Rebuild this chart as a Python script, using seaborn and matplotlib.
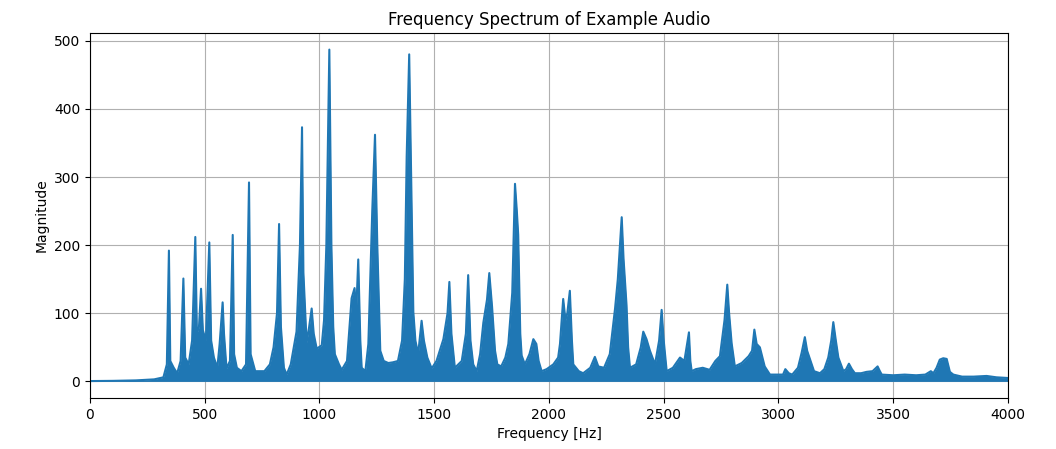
import matplotlib
matplotlib.use("Agg")
import matplotlib.pyplot as plt
import seaborn as sns
import pandas as pd

# =================== Data ===================

# upper envelope of the magnitude spectrum, frequency in Hz
freq_hz = [
    0, 100, 200, 280, 320, 335, 344, 350, 365, 380, 395, 407, 415, 430, 445,
    459, 466, 475, 484, 492, 505, 520, 528, 540, 555, 565, 578, 584, 595, 610,
    622, 628, 640, 660, 680, 693, 700, 720, 760, 784, 800, 815, 824, 832, 845,
    857, 875, 900, 915, 924, 930, 944, 955, 966, 975, 988, 1010, 1020, 1030, 1043,
    1052, 1060, 1067, 1085, 1097, 1120, 1140, 1153, 1160, 1169, 1178, 1184, 1200,
    1213, 1230, 1242, 1252, 1265, 1280, 1300, 1320, 1342, 1360, 1372, 1380,
    1391, 1398, 1409, 1418, 1430, 1445, 1455, 1470, 1489, 1510, 1540, 1558,
    1566, 1575, 1590, 1620, 1638, 1648, 1658, 1670, 1685, 1700, 1714, 1730,
    1740, 1752, 1765, 1775, 1792, 1810, 1823, 1840, 1852, 1860, 1866, 1875,
    1881, 1895, 1915, 1932, 1945, 1955, 1968, 1990, 2019, 2040, 2048, 2062,
    2072, 2080, 2091, 2100, 2106, 2130, 2149, 2180, 2200, 2215, 2240, 2265,
    2288, 2300, 2317, 2325, 2338, 2345, 2353, 2380, 2400, 2411, 2425, 2440,
    2462, 2480, 2491, 2500, 2513, 2540, 2571, 2590, 2610, 2616, 2622, 2640,
    2670, 2700, 2725, 2745, 2765, 2777, 2785, 2796, 2810, 2840, 2870, 2885,
    2895, 2905, 2919, 2930, 2940, 2963, 2990, 3020, 3030, 3045, 3060, 3085,
    3101, 3115, 3125, 3137, 3155, 3181, 3200, 3217, 3230, 3239, 3250, 3261,
    3283, 3295, 3307, 3320, 3333, 3360, 3384, 3410, 3432, 3442, 3450, 3500,
    3550, 3600, 3640, 3664, 3675, 3689, 3703, 3718, 3733, 3747, 3762, 3800,
    3850, 3907, 3950, 4000,
]

magnitude = [
    0.5, 0.8, 1.5, 3, 6, 25, 192, 30, 20, 12, 30, 151, 35, 25, 60,
    212, 70, 80, 136, 75, 60, 204, 60, 35, 20, 55, 116, 70, 19, 30,
    215, 40, 20, 15, 25, 292, 40, 15, 15, 25, 50, 100, 231, 80, 20,
    10, 25, 73, 200, 373, 160, 57, 80, 107, 70, 48, 53, 90, 200, 487,
    200, 80, 40, 25, 17, 30, 122, 137, 100, 179, 60, 20, 15,
    55, 250, 362, 200, 45, 30, 27, 28, 30, 60, 150, 330,
    480, 330, 102, 60, 40, 89, 60, 35, 19, 30, 62, 100,
    146, 70, 20, 30, 70, 156, 60, 25, 15, 40, 86, 120,
    159, 110, 45, 25, 22, 35, 55, 130, 290, 250, 215, 70,
    38, 25, 40, 62, 55, 30, 15, 18, 25, 35, 55, 121,
    90, 100, 133, 60, 25, 15, 12, 20, 36, 22, 20, 40,
    107, 150, 241, 180, 112, 50, 20, 25, 50, 73, 62, 45,
    25, 60, 105, 60, 15, 20, 35, 30, 72, 30, 15, 18,
    20, 17, 30, 37, 90, 142, 100, 56, 22, 27, 37, 45,
    76, 55, 50, 35, 22, 10, 10, 10, 18, 12, 10, 20,
    42, 65, 45, 33, 15, 12, 18, 35, 60, 87, 60, 35,
    15, 18, 26, 18, 12, 12, 14, 15, 22, 15, 10, 9,
    10, 9, 10, 15, 12, 20, 32, 34, 33, 14, 10, 7,
    7, 8, 6, 5,
]

# =================== Plot ===================

def plot_spectrum():
    df = pd.DataFrame({"Frequency": freq_hz, "Magnitude": magnitude})
    color = "#1f77b4"

    fig, ax = plt.subplots(figsize=(10.56, 4.49), dpi=100)
    fig.subplots_adjust(left=0.0852, right=0.9545, top=0.9265, bottom=0.1136)

    # dense spectrum looks like a filled band below the envelope
    ax.fill_between(df["Frequency"], 0, df["Magnitude"], color=color,
                    linewidth=0, zorder=2)
    sns.lineplot(data=df, x="Frequency", y="Magnitude", ax=ax,
                 color=color, linewidth=1.5, sort=False, zorder=2)

    ax.set_xlim(0, 4000)
    ax.set_title("Frequency Spectrum of Example Audio")
    ax.set_xlabel("Frequency [Hz]")
    ax.set_ylabel("Magnitude")
    ax.grid(True)

    fig.savefig("out.png", dpi=100)


if __name__ == "__main__":
    plot_spectrum()
